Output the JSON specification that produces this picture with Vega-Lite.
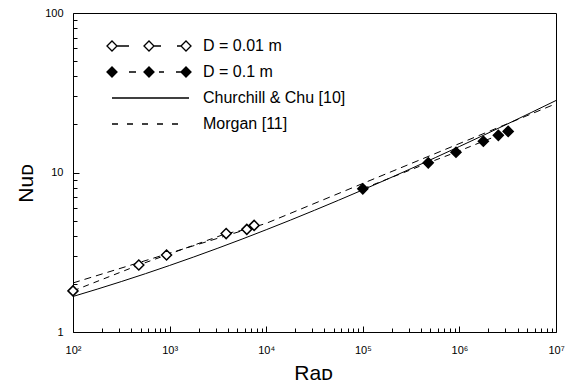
{
  "$schema": "https://vega.github.io/schema/vega-lite/v6.json",
  "width": 483,
  "height": 319,
  "autosize": {"type": "none"},
  "padding": {"left": 73, "top": 13, "right": 13, "bottom": 56},
  "background": "white",
  "config": {
    "view": {"stroke": "black", "strokeWidth": 1},
    "font": "Liberation Sans",
    "axis": {
      "domainColor": "black", "domainWidth": 1,
      "tickColor": "black", "tickWidth": 1,
      "labelColor": "black", "titleColor": "black",
      "grid": false,
      "labelFont": "Liberation Sans", "titleFont": "Liberation Sans",
      "titleFontWeight": "normal", "labelFontSize": 11, "titleFontSize": 21,
      "labelOverlap": false, "labelFlush": false
    }
  },
  "resolve": {"axis": {"x": "independent", "y": "independent"}},
  "data": {
    "values": [
      {"kind": "model", "series": "Churchill & Chu [10]", "Ra": 100, "Nu": 1.670},
      {"kind": "model", "series": "Churchill & Chu [10]", "Ra": 177.8, "Nu": 1.856},
      {"kind": "model", "series": "Churchill & Chu [10]", "Ra": 316.2, "Nu": 2.071},
      {"kind": "model", "series": "Churchill & Chu [10]", "Ra": 562.3, "Nu": 2.321},
      {"kind": "model", "series": "Churchill & Chu [10]", "Ra": 1000, "Nu": 2.613},
      {"kind": "model", "series": "Churchill & Chu [10]", "Ra": 1778, "Nu": 2.954},
      {"kind": "model", "series": "Churchill & Chu [10]", "Ra": 3162, "Nu": 3.354},
      {"kind": "model", "series": "Churchill & Chu [10]", "Ra": 5623, "Nu": 3.823},
      {"kind": "model", "series": "Churchill & Chu [10]", "Ra": 10000, "Nu": 4.376},
      {"kind": "model", "series": "Churchill & Chu [10]", "Ra": 17783, "Nu": 5.027},
      {"kind": "model", "series": "Churchill & Chu [10]", "Ra": 31623, "Nu": 5.796},
      {"kind": "model", "series": "Churchill & Chu [10]", "Ra": 56234, "Nu": 6.705},
      {"kind": "model", "series": "Churchill & Chu [10]", "Ra": 100000, "Nu": 7.782},
      {"kind": "model", "series": "Churchill & Chu [10]", "Ra": 177828, "Nu": 9.061},
      {"kind": "model", "series": "Churchill & Chu [10]", "Ra": 316228, "Nu": 10.58},
      {"kind": "model", "series": "Churchill & Chu [10]", "Ra": 562341, "Nu": 12.39},
      {"kind": "model", "series": "Churchill & Chu [10]", "Ra": 1000000, "Nu": 14.55},
      {"kind": "model", "series": "Churchill & Chu [10]", "Ra": 1778279, "Nu": 17.12},
      {"kind": "model", "series": "Churchill & Chu [10]", "Ra": 3162278, "Nu": 20.19},
      {"kind": "model", "series": "Churchill & Chu [10]", "Ra": 5623413, "Nu": 23.87},
      {"kind": "model", "series": "Churchill & Chu [10]", "Ra": 10000000, "Nu": 28.28},
      {"kind": "morgan", "series": "Morgan [11]", "Ra": 100, "Nu": 2.03},
      {"kind": "morgan", "series": "Morgan [11]", "Ra": 10000, "Nu": 4.80},
      {"kind": "morgan", "series": "Morgan [11]", "Ra": 10000000, "Nu": 27.0},
      {"kind": "exp", "series": "D = 0.01 m", "Ra": 100, "Nu": 1.81},
      {"kind": "exp", "series": "D = 0.01 m", "Ra": 480, "Nu": 2.63},
      {"kind": "exp", "series": "D = 0.01 m", "Ra": 930, "Nu": 3.04},
      {"kind": "exp", "series": "D = 0.01 m", "Ra": 3850, "Nu": 4.14},
      {"kind": "exp", "series": "D = 0.01 m", "Ra": 6300, "Nu": 4.40},
      {"kind": "exp", "series": "D = 0.01 m", "Ra": 7500, "Nu": 4.66},
      {"kind": "exp", "series": "D = 0.1 m", "Ra": 100000, "Nu": 7.9},
      {"kind": "exp", "series": "D = 0.1 m", "Ra": 476000, "Nu": 11.5},
      {"kind": "exp", "series": "D = 0.1 m", "Ra": 922000, "Nu": 13.4},
      {"kind": "exp", "series": "D = 0.1 m", "Ra": 1770000, "Nu": 15.7},
      {"kind": "exp", "series": "D = 0.1 m", "Ra": 2530000, "Nu": 17.1},
      {"kind": "exp", "series": "D = 0.1 m", "Ra": 3200000, "Nu": 18.1}
    ]
  },
  "layer": [
    {
      "transform": [{"filter": "datum.kind === 'model'"}],
      "mark": {"type": "line", "color": "black", "strokeWidth": 1},
      "encoding": {
        "x": {
          "field": "Ra", "type": "quantitative",
          "scale": {"type": "log", "domain": [100, 10000000], "nice": false},
          "axis": {
            "orient": "bottom",
            "offset": -6,
            "domain": false,
            "values": [100, 1000, 10000, 100000, 1000000, 10000000],
            "tickSize": 6,
            "labelExpr": "'10' + ['⁰','¹','²','³','⁴','⁵','⁶','⁷'][round(log(datum.value)/LN10)]",
            "labelPadding": 12,
            "labelBaseline": "top",
            "labelColor": "black",
            "title": "Raᴅ",
            "titleX": 240,
            "titleY": 53,
            "titleBaseline": "alphabetic",
            "titleAlign": "center"
          }
        },
        "y": {
          "field": "Nu", "type": "quantitative",
          "scale": {"type": "log", "domain": [1, 100], "nice": false},
          "axis": {
            "orient": "left",
            "offset": -6,
            "domain": false,
            "values": [1, 10, 100],
            "tickSize": 6,
            "labelExpr": "format(datum.value, 'd')",
            "labelPadding": 10,
            "labelColor": "black",
            "title": "Nuᴅ",
            "titleX": -47,
            "titleY": 170,
            "titleAngle": 270,
            "titleBaseline": "alphabetic",
            "titleAlign": "center"
          }
        }
      }
    },
    {
      "transform": [{"filter": "datum.kind === 'morgan'"}],
      "mark": {"type": "line", "color": "black", "strokeWidth": 1, "strokeDash": [7, 5]},
      "encoding": {
        "x": {"field": "Ra", "type": "quantitative", "axis": null},
        "y": {"field": "Nu", "type": "quantitative", "axis": null}
      }
    },
    {
      "transform": [{"filter": "datum.kind === 'exp'"}],
      "mark": {"type": "line", "color": "black", "strokeWidth": 1, "strokeDash": [6, 5]},
      "encoding": {
        "x": {"field": "Ra", "type": "quantitative", "axis": null},
        "y": {"field": "Nu", "type": "quantitative", "axis": null},
        "detail": {"field": "series"}
      }
    },
    {
      "transform": [{"filter": "datum.kind === 'exp'"}],
      "mark": {"type": "point", "shape": "diamond", "size": 100, "stroke": "black", "strokeWidth": 1.5, "opacity": 1},
      "encoding": {
        "x": {"field": "Ra", "type": "quantitative", "axis": null},
        "y": {"field": "Nu", "type": "quantitative", "axis": null},
        "fill": {"condition": {"test": "datum.series === 'D = 0.1 m'", "value": "black"}, "value": "white"}
      }
    },
    {
      "transform": [{"filter": "datum.Ra < 0"}],
      "mark": {"type": "point", "size": 4, "stroke": "black", "strokeWidth": 1.3, "opacity": 1},
      "encoding": {
        "x": {
          "field": "Ra", "type": "quantitative",
          "axis": {
            "orient": "bottom",
            "offset": -4,
            "values": [200,300,400,500,600,700,800,900,2000,3000,4000,5000,6000,7000,8000,9000,20000,30000,40000,50000,60000,70000,80000,90000,200000,300000,400000,500000,600000,700000,800000,900000,2000000,3000000,4000000,5000000,6000000,7000000,8000000,9000000],
            "tickSize": 4,
            "labels": false,
            "domain": false,
            "title": null
          }
        },
        "y": {
          "field": "Nu", "type": "quantitative",
          "axis": {
            "orient": "left",
            "offset": -4,
            "values": [2,3,4,5,6,7,8,9,20,30,40,50,60,70,80,90],
            "tickSize": 4,
            "labels": false,
            "domain": false,
            "title": null
          }
        },
        "shape": {
          "field": "series", "type": "nominal",
          "scale": {
            "domain": ["D = 0.01 m", "D = 0.1 m", "Churchill & Chu [10]", "Morgan [11]"],
            "range": [
              "M-42,0L-37,-5L-32,0L-37,5Z M-5,0L0,-5L5,0L0,5Z M32,0L37,-5L42,0L37,5Z M-32,0H-20 M5,0H12 M28,0H32",
              "M-42,0L-37,-5L-32,0L-37,5Z M-40.8,0L-37,-3.8L-33.2,0L-37,3.8Z M-39.6,0L-37,-2.6L-34.4,0L-37,2.6Z M-38.4,0L-37,-1.4L-35.6,0L-37,1.4Z M-37.3,0L-37,-0.3L-36.7,0L-37,0.3Z M-5,0L0,-5L5,0L0,5Z M-3.8,0L0,-3.8L3.8,0L0,3.8Z M-2.6,0L0,-2.6L2.6,0L0,2.6Z M-1.4,0L0,-1.4L1.4,0L0,1.4Z M-0.3,0L0,-0.3L0.3,0L0,0.3Z M32,0L37,-5L42,0L37,5Z M33.2,0L37,-3.8L40.8,0L37,3.8Z M34.4,0L37,-2.6L39.6,0L37,2.6Z M35.6,0L37,-1.4L38.4,0L37,1.4Z M36.7,0L37,-0.3L37.3,0L37,0.3Z M-20,0H-13 M10,0H15 M27,0H32",
              "M-37,0H40",
              "M-37,0H-31 M-22,0H-16 M-7,0H-1 M8,0H14 M23,0H29"
            ]
          },
          "legend": {
            "title": null, "orient": "none", "legendX": 68, "legendY": 25,
            "symbolSize": 4, "labelFontSize": 16, "labelOffset": 46, "rowPadding": 10,
            "symbolStrokeColor": "black", "symbolStrokeWidth": 1.3,
            "labelFont": "Liberation Sans", "labelColor": "black", "labelLimit": 300, "padding": 0,
            "encode": {
              "symbols": {
                "stroke": {"value": "black"},
                "strokeWidth": {"value": 1.3},
                "opacity": {"value": 1}
              }
            }
          }
        }
      }
    }
  ]
}
